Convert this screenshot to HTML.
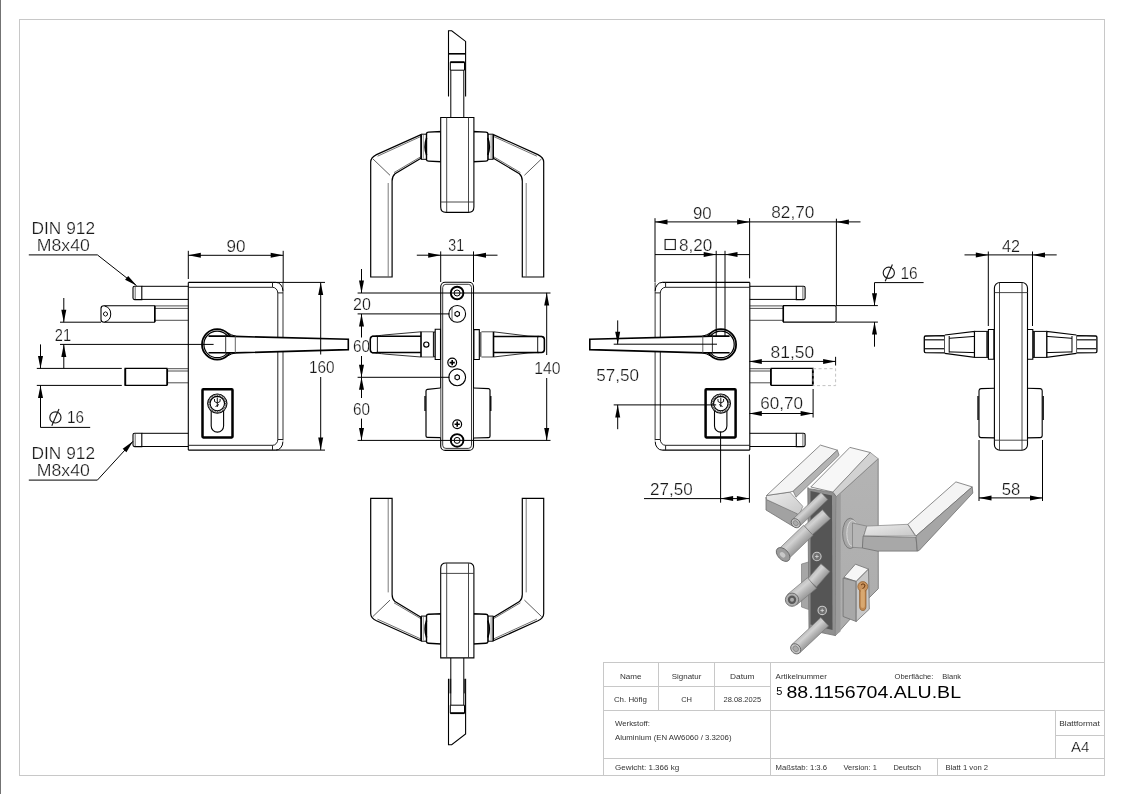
<!DOCTYPE html>
<html><head><meta charset="utf-8"><style>
html,body{margin:0;padding:0;background:#fff;width:1123px;height:794px;overflow:hidden}
svg{display:block;will-change:transform}
text{font-family:"Liberation Sans", sans-serif}
</style></head><body>
<svg width="1123" height="794" viewBox="0 0 1123 794">
<rect x="0" y="0" width="1123" height="794" fill="#fff"/>

<rect x="0" y="0" width="1" height="794" fill="#737373"/>
<rect x="19.5" y="19.5" width="1085" height="756" fill="none" stroke="#c8c8c8" stroke-width="1"/>
<g stroke="#c8c8c8" stroke-width="1" fill="none">
<rect x="603.5" y="662.5" width="501" height="113"/>
<line x1="603.5" y1="686.5" x2="770.5" y2="686.5"/>
<line x1="603.5" y1="710.5" x2="1104.5" y2="710.5"/>
<line x1="603.5" y1="758.5" x2="1104.5" y2="758.5"/>
<line x1="658.5" y1="662.5" x2="658.5" y2="710.5"/>
<line x1="714.5" y1="662.5" x2="714.5" y2="710.5"/>
<line x1="770.5" y1="662.5" x2="770.5" y2="775.5"/>
<line x1="1055.5" y1="710.5" x2="1055.5" y2="758.5"/>
<line x1="1055.5" y1="735.5" x2="1104.5" y2="735.5"/>
<line x1="937.5" y1="758.5" x2="937.5" y2="775.5"/>
</g>
<text x="630.8" y="679" font-size="7.5" text-anchor="middle" fill="#333" textLength="21.6" lengthAdjust="spacingAndGlyphs" >Name</text>
<text x="686.6" y="679" font-size="7.5" text-anchor="middle" fill="#333" textLength="29.6" lengthAdjust="spacingAndGlyphs" >Signatur</text>
<text x="742.3" y="679" font-size="7.5" text-anchor="middle" fill="#333" textLength="24.5" lengthAdjust="spacingAndGlyphs" >Datum</text>
<text x="630.4" y="702" font-size="7.5" text-anchor="middle" fill="#333" textLength="33" lengthAdjust="spacingAndGlyphs" >Ch. Höfig</text>
<text x="686.6" y="702" font-size="7.5" text-anchor="middle" fill="#333" >CH</text>
<text x="742.3" y="702" font-size="7.5" text-anchor="middle" fill="#333" >28.08.2025</text>
<text x="615" y="726.4" font-size="7.5" text-anchor="start" fill="#333" textLength="34.9" lengthAdjust="spacingAndGlyphs" >Werkstoff:</text>
<text x="615" y="740.4" font-size="7.5" text-anchor="start" fill="#333" textLength="116.5" lengthAdjust="spacingAndGlyphs" >Aluminium (EN AW6060 / 3.3206)</text>
<text x="615" y="769.7" font-size="7.5" text-anchor="start" fill="#333" textLength="64.2" lengthAdjust="spacingAndGlyphs" >Gewicht: 1.366 kg</text>
<text x="775.6" y="679.3" font-size="7.5" text-anchor="start" fill="#333" textLength="51.2" lengthAdjust="spacingAndGlyphs" >Artikelnummer</text>
<text x="894.6" y="679.3" font-size="7.5" text-anchor="start" fill="#333" >Oberfläche:</text>
<text x="942.3" y="679.3" font-size="7.5" text-anchor="start" fill="#333" >Blank</text>
<text x="776.2" y="694.9" font-size="11" text-anchor="start" fill="#000" >5</text>
<text x="786.5" y="697.7" font-size="17.4" text-anchor="start" fill="#000" textLength="174.5" lengthAdjust="spacingAndGlyphs" >88.1156704.ALU.BL</text>
<text x="1079.5" y="726" font-size="7.5" text-anchor="middle" fill="#333" textLength="40.5" lengthAdjust="spacingAndGlyphs" >Blattformat</text>
<text x="1080.2" y="751.6" font-size="14" text-anchor="middle" fill="#111" textLength="18.4" lengthAdjust="spacingAndGlyphs" stroke="#fff" stroke-width="0.22" >A4</text>
<text x="775.6" y="769.7" font-size="7.5" text-anchor="start" fill="#333" textLength="51.5" lengthAdjust="spacingAndGlyphs" >Maßstab: 1:3.6</text>
<text x="843.5" y="769.7" font-size="7.5" text-anchor="start" fill="#333" >Version: 1</text>
<text x="893.4" y="769.7" font-size="7.5" text-anchor="start" fill="#333" >Deutsch</text>
<text x="945.4" y="769.7" font-size="7.5" text-anchor="start" fill="#333" textLength="42.7" lengthAdjust="spacingAndGlyphs" >Blatt 1 von 2</text>
<g>
<path d="M188.3,282.4 L275.9,282.4 M188.3,450.1 L275.9,450.1 M188.3,282.4 L188.3,450.1" stroke="#000" stroke-width="1.1" fill="none" />
<path d="M283,282.4 L283,440.4" stroke="#333" stroke-width="1.0" fill="none" />
<path d="M275.9,282.4 A6.8,8.5 0 0 1 282.9,290.9 M282.9,441.6 A6.8,8.5 0 0 1 275.9,450.1" stroke="#000" stroke-width="1.0" fill="none" />
<path d="M188.3,287.3 L272.5,287.3 M272.5,282.4 L272.5,287.3 A5.3,5.8 0 0 1 277.8,293.1 L277.8,439.4 A5.3,5.8 0 0 1 272.5,445.3 L188.3,445.3 M272.5,445.3 L272.5,450.1 M277.8,292.9 L283,292.9 M277.8,439.5 L283,439.5" stroke="#222" stroke-width="1.0" fill="none" />
<path d="M141.8,286.3 L188.3,286.3 M141.8,299.4 L188.3,299.4" stroke="#000" stroke-width="1.0" fill="none" />
<path d="M141.8,286.2 L134.6,286.2 Q133,286.2 133,287.8 L133,298 Q133,299.6 134.6,299.6 L141.8,299.6 Z" stroke="#000" stroke-width="1.1" fill="none" />
<line x1="135.2" y1="286.6" x2="135.2" y2="299.2" stroke="#444" stroke-width="0.8" />
<path d="M141.8,433.3 L188.3,433.3 M141.8,446.5 L188.3,446.5" stroke="#000" stroke-width="1.0" fill="none" />
<path d="M141.8,433.2 L134.6,433.2 Q133,433.2 133,434.8 L133,445 Q133,446.6 134.6,446.6 L141.8,446.6 Z" stroke="#000" stroke-width="1.1" fill="none" />
<line x1="135.2" y1="433.6" x2="135.2" y2="446.2" stroke="#444" stroke-width="0.8" />
<path d="M125,368.4 L167,368.4 L167,385.4 L125,385.4 Z" stroke="#000" stroke-width="1.1" fill="none" />
<line x1="125.4" y1="368.6" x2="125.4" y2="385.2" stroke="#000" stroke-width="1.6" />
<path d="M167,368.7 L188.3,368.7 M167,371 L188.3,371 M167,382.8 L188.3,382.8" stroke="#222" stroke-width="0.8" fill="none" />
<line x1="167.3" y1="369" x2="167.3" y2="385" stroke="#000" stroke-width="1.5" />
<path d="M154.6,305.9 L188.3,305.9 M154.6,308.4 L188.3,308.4 M154.6,320.3 L188.3,320.3" stroke="#222" stroke-width="0.8" fill="none" />
<line x1="154.9" y1="306" x2="154.9" y2="322" stroke="#000" stroke-width="1.5" />
<circle cx="217.2" cy="344.4" r="15.2" fill="#fff" stroke="#000" stroke-width="1.8"/>
<circle cx="217.2" cy="344.4" r="13.3" fill="none" stroke="#000" stroke-width="1.2"/>
<path d="M208.5,336.1 L226.5,336.1 L234.5,336.4 L348.3,339.2 L348.3,349.6 L234.5,352.9 L226.5,352.8 L208.5,352.8" stroke="#000" stroke-width="1.6" fill="#fff" />
<path d="M227.5,332.8 Q231,335 236,336.3 M227.5,356 Q231,353.8 236,352.6" stroke="#000" stroke-width="1.0" fill="none" />
<line x1="225.7" y1="335.5" x2="225.7" y2="353.4" stroke="#222" stroke-width="0.9" />
<line x1="235.3" y1="336.2" x2="235.3" y2="352.8" stroke="#555" stroke-width="0.9" />
<rect x="202.5" y="389.2" width="30" height="48.2" rx="0.8" fill="none" stroke="#000" stroke-width="2.5"/>
<path d="M211.2,405 L211.2,426 A6.1,6 0 0 0 223.6,426 L223.6,405" stroke="#000" stroke-width="1.1" fill="none" />
<circle cx="217.3" cy="403.6" r="9.6" fill="#fff" stroke="#000" stroke-width="1.2"/>
<circle cx="217.3" cy="403.6" r="8.5" fill="none" stroke="#555" stroke-width="2" stroke-dasharray="1,0.8"/>
<circle cx="217.3" cy="403.6" r="7.2" fill="#fff" stroke="#000" stroke-width="1.1"/>
<path d="M214.5,399 L214.5,401.5 Q217.3,404.5 220.1,401.5 L220.1,399 M217.3,397.5 L217.3,407 M215.5,406.5 L219,404.5" stroke="#000" stroke-width="0.9" fill="none" />
<path d="M154.6,305.8 L104,305.8 Q101,305.8 101,308.5 L101,319.5 Q101,322.2 104,322.2 L154.6,322.2 Z" stroke="#000" stroke-width="1.1" fill="none" />
<path d="M104.5,306 A8,8.2 0 0 1 104.5,322" stroke="#000" stroke-width="1.0" fill="none" />
<polygon points="103.6,312.9 105.5,311.8 107.4,312.9 107.4,315.1 105.5,316.2 103.6,315.1" fill="none" stroke="#000" stroke-width="0.9"/>
</g>
<line x1="188.3" y1="250.8" x2="188.3" y2="279" stroke="#000" stroke-width="1.0" />
<line x1="283.2" y1="250.8" x2="283.2" y2="282" stroke="#000" stroke-width="1.0" />
<line x1="188.3" y1="255.3" x2="283.2" y2="255.3" stroke="#000" stroke-width="1.0" />
<polygon points="188.3,255.3 200.8,252.8 200.8,257.8" fill="#000"/>
<polygon points="283.2,255.3 270.7,252.8 270.7,257.8" fill="#000"/>
<text x="236" y="251.6" font-size="16" text-anchor="middle" fill="#1a1a1a" textLength="19" lengthAdjust="spacingAndGlyphs" stroke="#fff" stroke-width="0.22" >90</text>
<line x1="275.9" y1="282.4" x2="325" y2="282.4" stroke="#000" stroke-width="1.0" />
<line x1="275.9" y1="450.1" x2="325" y2="450.1" stroke="#000" stroke-width="1.0" />
<line x1="320.7" y1="282.5" x2="320.7" y2="354.5" stroke="#000" stroke-width="1.0" />
<line x1="320.7" y1="377" x2="320.7" y2="450.1" stroke="#000" stroke-width="1.0" />
<polygon points="320.7,282.5 318.2,295.0 323.2,295.0" fill="#000"/>
<polygon points="320.7,450.1 318.2,437.6 323.2,437.6" fill="#000"/>
<text x="321.8" y="372.9" font-size="16" text-anchor="middle" fill="#1a1a1a" textLength="25.6" lengthAdjust="spacingAndGlyphs" stroke="#fff" stroke-width="0.22" >160</text>
<line x1="60" y1="322.2" x2="101" y2="322.2" stroke="#000" stroke-width="1.0" />
<line x1="60" y1="344.4" x2="213.6" y2="344.4" stroke="#000" stroke-width="1.0" />
<line x1="63.8" y1="298" x2="63.8" y2="322.2" stroke="#000" stroke-width="1.0" />
<polygon points="63.8,322.2 61.3,309.7 66.3,309.7" fill="#000"/>
<line x1="63.8" y1="344.4" x2="63.8" y2="368.4" stroke="#000" stroke-width="1.0" />
<polygon points="63.8,344.4 61.3,356.9 66.3,356.9" fill="#000"/>
<text x="63" y="340.5" font-size="16" text-anchor="middle" fill="#1a1a1a" textLength="16.3" lengthAdjust="spacingAndGlyphs" stroke="#fff" stroke-width="0.22" >21</text>
<line x1="36.8" y1="368.4" x2="121.8" y2="368.4" stroke="#000" stroke-width="1.0" />
<line x1="36.8" y1="385.4" x2="121.8" y2="385.4" stroke="#000" stroke-width="1.0" />
<line x1="40.5" y1="344.4" x2="40.5" y2="368.4" stroke="#000" stroke-width="1.0" />
<polygon points="40.5,368.4 38.0,355.9 43.0,355.9" fill="#000"/>
<line x1="40.5" y1="385.4" x2="40.5" y2="427.4" stroke="#000" stroke-width="1.0" />
<polygon points="40.5,385.4 38.0,397.9 43.0,397.9" fill="#000"/>
<line x1="40.5" y1="427.4" x2="90.2" y2="427.4" stroke="#000" stroke-width="1.0" />
<circle cx="55.4" cy="417.4" rx="5.5" r="5.6" fill="none" stroke="#1a1a1a" stroke-width="1.15"/>
<line x1="51.8" y1="425.8" x2="59.0" y2="409.0" stroke="#1a1a1a" stroke-width="1.15"/>
<text x="67" y="423.4" font-size="16" text-anchor="start" fill="#1a1a1a" textLength="17" lengthAdjust="spacingAndGlyphs" stroke="#fff" stroke-width="0.22" >16</text>
<path d="M28.8,254.9 L97.4,254.9 L136.5,285.6" stroke="#000" stroke-width="1.0" fill="none" />
<polygon points="136.5,285.6 128.2,275.9 125.1,279.8" fill="#000"/>
<text x="63.3" y="234.4" font-size="16" text-anchor="middle" fill="#1a1a1a" textLength="63.5" lengthAdjust="spacingAndGlyphs" stroke="#fff" stroke-width="0.22" >DIN 912</text>
<text x="63.3" y="251.3" font-size="16" text-anchor="middle" fill="#1a1a1a" textLength="53" lengthAdjust="spacingAndGlyphs" stroke="#fff" stroke-width="0.22" >M8x40</text>
<path d="M28.8,480.1 L97.4,480.1 L133,441.3" stroke="#000" stroke-width="1.0" fill="none" />
<polygon points="133.0,441.3 122.7,448.8 126.4,452.2" fill="#000"/>
<text x="63.3" y="459.3" font-size="16" text-anchor="middle" fill="#1a1a1a" textLength="63.5" lengthAdjust="spacingAndGlyphs" stroke="#fff" stroke-width="0.22" >DIN 912</text>
<text x="63.3" y="476" font-size="16" text-anchor="middle" fill="#1a1a1a" textLength="53" lengthAdjust="spacingAndGlyphs" stroke="#fff" stroke-width="0.22" >M8x40</text>
<rect x="440.7" y="282.3" width="32.8" height="168.1" rx="4.5" fill="#fff" stroke="#000" stroke-width="1.1"/>
<rect x="442.7" y="284.3" width="28.8" height="164.1" rx="3.2" fill="none" stroke="#222" stroke-width="0.9"/>
<path d="M421,331.8 L386,334.8 Q376,336 372.5,336.2 Q370.3,336.5 370.3,339.5 L370.3,349.5 Q370.3,352.5 372.5,352.8 Q376,353 386,354.2 L421,357" stroke="#333" stroke-width="1.0" fill="#fff" />
<path d="M377.6,336.3 L372.5,336.3 Q370.3,336.6 370.3,339.5 L370.3,349.5 Q370.3,352.4 372.5,352.7 L377.6,352.7" stroke="#000" stroke-width="1.5" fill="none" />
<line x1="376.5" y1="336.3" x2="421" y2="336.3" stroke="#000" stroke-width="1.5" />
<line x1="376.5" y1="352.6" x2="421" y2="352.6" stroke="#000" stroke-width="1.5" />
<line x1="377.4" y1="336.5" x2="377.4" y2="352.5" stroke="#000" stroke-width="0.9" />
<path d="M421,331.8 L433.4,331.8 M421,357 L433.4,357" stroke="#555" stroke-width="1.0" fill="none" />
<line x1="421" y1="331.8" x2="421" y2="357" stroke="#000" stroke-width="1.6" />
<circle cx="426.3" cy="344.6" r="2.6" fill="none" stroke="#000" stroke-width="1.2"/>
<path d="M433.4,332 L435.2,332 L435.2,356.8 L433.4,356.8 Z" stroke="#000" stroke-width="1.0" fill="none" />
<path d="M435.2,329.3 L440.5,329.3 L440.5,359.5 L435.2,359.5 Z" stroke="#000" stroke-width="1.1" fill="#fff" />
<path d="M493.5,331.8 L528,336 Q534,336.3 541.5,336.4 Q544.4,336.5 544.4,339.5 L544.4,349.5 Q544.4,352.4 541.5,352.5 Q534,352.6 528,353 L493.5,357" stroke="#333" stroke-width="1.0" fill="#fff" />
<path d="M537.7,336.4 L541.5,336.4 Q544.4,336.6 544.4,339.5 L544.4,349.5 Q544.4,352.4 541.5,352.5 L537.7,352.5" stroke="#000" stroke-width="1.5" fill="none" />
<line x1="493.5" y1="336.4" x2="538.5" y2="336.4" stroke="#000" stroke-width="1.5" />
<line x1="493.5" y1="352.4" x2="538.5" y2="352.4" stroke="#000" stroke-width="1.5" />
<line x1="537.7" y1="336.6" x2="537.7" y2="352.3" stroke="#000" stroke-width="0.9" />
<path d="M481.4,331.8 L493.5,331.8 M481.4,357 L493.5,357" stroke="#555" stroke-width="1.0" fill="none" />
<line x1="493.5" y1="331.8" x2="493.5" y2="357" stroke="#000" stroke-width="1.6" />
<rect x="479.6" y="332" width="1.9" height="24.8" fill="#666"/>
<path d="M473.9,329.6 L479.3,329.6 L479.3,359.5 L473.9,359.5 Z" stroke="#000" stroke-width="1.1" fill="#fff" />
<path d="M440.4,388 L427.5,389.3 Q426,389.5 426,391 L426,436 Q426,437.3 427.5,437.3 L440.4,437.6" stroke="#000" stroke-width="1.2" fill="#fff" />
<line x1="425" y1="396" x2="425" y2="411" stroke="#000" stroke-width="1.3" />
<path d="M473.9,388 L488.5,388.6 Q490,388.8 490,390.3 L490,436.3 Q490,437.7 488.5,437.7 L473.9,438" stroke="#000" stroke-width="1.2" fill="#fff" />
<line x1="490.8" y1="396" x2="490.8" y2="411" stroke="#000" stroke-width="1.3" />
<circle cx="457.1" cy="293" r="6.3" fill="#fff" stroke="#000" stroke-width="1.9"/>
<circle cx="457.1" cy="293" r="3.0" fill="none" stroke="#000" stroke-width="1.0"/>
<circle cx="457.1" cy="440.4" r="6.3" fill="#fff" stroke="#000" stroke-width="1.9"/>
<circle cx="457.1" cy="440.4" r="3.0" fill="none" stroke="#000" stroke-width="1.0"/>
<circle cx="457.2" cy="313.9" r="8.4" fill="#fff" stroke="#000" stroke-width="1.1"/>
<polygon points="455.0,312.59999999999997 457.2,311.29999999999995 459.4,312.59999999999997 459.4,315.2 457.2,316.5 455.0,315.2" fill="none" stroke="#000" stroke-width="1.1"/>
<circle cx="457.2" cy="377.3" r="8.4" fill="#fff" stroke="#000" stroke-width="1.1"/>
<polygon points="455.0,376.0 457.2,374.7 459.4,376.0 459.4,378.6 457.2,379.90000000000003 455.0,378.6" fill="none" stroke="#000" stroke-width="1.1"/>
<line x1="452" y1="307" x2="452" y2="320.8" stroke="#333" stroke-width="0.8" />
<circle cx="452.2" cy="362.6" r="4.4" fill="none" stroke="#000" stroke-width="1.2"/>
<path d="M449.59999999999997,362.6 L454.8,362.6 M452.2,360.0 L452.2,365.20000000000005" stroke="#000" stroke-width="1.6"/>
<circle cx="457.2" cy="424.2" r="4.4" fill="none" stroke="#000" stroke-width="1.2"/>
<path d="M454.59999999999997,424.2 L459.8,424.2 M457.2,421.59999999999997 L457.2,426.8" stroke="#000" stroke-width="1.6"/>
<line x1="357.6" y1="293" x2="550.5" y2="293" stroke="#000" stroke-width="1.0" />
<line x1="357.6" y1="440.4" x2="550.5" y2="440.4" stroke="#000" stroke-width="1.0" />
<line x1="357.6" y1="313.9" x2="449.6" y2="313.9" stroke="#000" stroke-width="1.0" />
<line x1="357.6" y1="377.3" x2="449.6" y2="377.3" stroke="#000" stroke-width="1.0" />
<line x1="361.5" y1="269" x2="361.5" y2="293" stroke="#000" stroke-width="1.0" />
<polygon points="361.5,293.0 359.0,280.5 364.0,280.5" fill="#000"/>
<line x1="361.5" y1="313.9" x2="361.5" y2="337.5" stroke="#000" stroke-width="1.0" />
<polygon points="361.5,313.9 359.0,326.4 364.0,326.4" fill="#000"/>
<line x1="361.5" y1="356" x2="361.5" y2="377.3" stroke="#000" stroke-width="1.0" />
<polygon points="361.5,377.3 359.0,364.8 364.0,364.8" fill="#000"/>
<line x1="361.5" y1="377.3" x2="361.5" y2="398" stroke="#000" stroke-width="1.0" />
<polygon points="361.5,377.3 359.0,389.8 364.0,389.8" fill="#000"/>
<line x1="361.5" y1="418.6" x2="361.5" y2="440.4" stroke="#000" stroke-width="1.0" />
<polygon points="361.5,440.4 359.0,427.9 364.0,427.9" fill="#000"/>
<text x="362" y="310.3" font-size="16" text-anchor="middle" fill="#1a1a1a" textLength="17.8" lengthAdjust="spacingAndGlyphs" stroke="#fff" stroke-width="0.22" >20</text>
<text x="361.5" y="352.4" font-size="16" text-anchor="middle" fill="#1a1a1a" textLength="17" lengthAdjust="spacingAndGlyphs" stroke="#fff" stroke-width="0.22" >60</text>
<text x="361.5" y="414.9" font-size="16" text-anchor="middle" fill="#1a1a1a" textLength="17" lengthAdjust="spacingAndGlyphs" stroke="#fff" stroke-width="0.22" >60</text>
<line x1="440.7" y1="251.4" x2="440.7" y2="282" stroke="#000" stroke-width="1.0" />
<line x1="473.5" y1="251.4" x2="473.5" y2="282" stroke="#000" stroke-width="1.0" />
<line x1="416.8" y1="255.2" x2="497.5" y2="255.2" stroke="#000" stroke-width="1.0" />
<polygon points="440.7,255.2 428.2,252.7 428.2,257.7" fill="#000"/>
<polygon points="473.5,255.2 486.0,252.7 486.0,257.7" fill="#000"/>
<text x="456.2" y="251.4" font-size="16" text-anchor="middle" fill="#1a1a1a" textLength="15.7" lengthAdjust="spacingAndGlyphs" stroke="#fff" stroke-width="0.22" >31</text>
<line x1="546.7" y1="292.8" x2="546.7" y2="355" stroke="#000" stroke-width="1.0" />
<line x1="546.7" y1="378" x2="546.7" y2="440.5" stroke="#000" stroke-width="1.0" />
<polygon points="546.7,292.9 544.2,305.4 549.2,305.4" fill="#000"/>
<polygon points="546.7,440.4 544.2,427.9 549.2,427.9" fill="#000"/>
<text x="547.5" y="373.5" font-size="16" text-anchor="middle" fill="#1a1a1a" textLength="26.3" lengthAdjust="spacingAndGlyphs" stroke="#fff" stroke-width="0.22" >140</text>
<g>
<path d="M448.5,96.6 L448.5,30.7 L451.7,30.7 L465.6,41.4 L465.6,96.6" stroke="#000" stroke-width="1.1" fill="#fff" />
<line x1="448.5" y1="53.8" x2="465.6" y2="53.8" stroke="#000" stroke-width="1.6" />
<path d="M450.3,62.2 L464.5,62.2 L464.5,70.2 L450.3,70.2 Z" stroke="#000" stroke-width="1.0" fill="none" />
<line x1="450.3" y1="62.2" x2="464.5" y2="62.2" stroke="#000" stroke-width="1.8" />
<line x1="450.8" y1="70.2" x2="450.8" y2="117.6" stroke="#000" stroke-width="1.0" />
<line x1="463.8" y1="70.2" x2="463.8" y2="117.6" stroke="#000" stroke-width="1.0" />
<g >
<path d="M421,134.6 L376.5,154.6 Q370.7,157.5 370.7,162 L370.7,277 L392.1,277 L392.1,181 Q392.1,176.5 395,173.8 L421,158.2" stroke="#000" stroke-width="1.2" fill="#fff" />
<path d="M421,136.4 L377.5,156.2 M421,156.6 L394,172.6" stroke="#333" stroke-width="0.7" fill="none" />
<line x1="372.8" y1="158.8" x2="390" y2="175.3" stroke="#333" stroke-width="0.8" />
<line x1="388.2" y1="183" x2="388.2" y2="276.5" stroke="#444" stroke-width="0.7" />
<path d="M421,134.2 L426.5,134.2 L426.5,159.3 L421,159.3 Z" stroke="#000" stroke-width="1.0" fill="#fff" />
<line x1="421.2" y1="134.5" x2="421.2" y2="159" stroke="#000" stroke-width="1.5" />
<line x1="423.3" y1="135" x2="423.3" y2="158.6" stroke="#666" stroke-width="0.7" />
<path d="M426.5,133.5 Q426.8,132.2 428.5,132.1 L441,131.5 L441,161.7 L428.5,161.1 Q426.8,161 426.5,159.8 Z" stroke="#000" stroke-width="1.4" fill="#fff" />
<path d="M426.6,138 Q423.6,146.5 426.6,155" stroke="#000" stroke-width="1.6" fill="none" />
</g>
<g transform="translate(914.4,0) scale(-1,1)">
<path d="M421,134.6 L376.5,154.6 Q370.7,157.5 370.7,162 L370.7,277 L392.1,277 L392.1,181 Q392.1,176.5 395,173.8 L421,158.2" stroke="#000" stroke-width="1.2" fill="#fff" />
<path d="M421,136.4 L377.5,156.2 M421,156.6 L394,172.6" stroke="#333" stroke-width="0.7" fill="none" />
<line x1="372.8" y1="158.8" x2="390" y2="175.3" stroke="#333" stroke-width="0.8" />
<line x1="388.2" y1="183" x2="388.2" y2="276.5" stroke="#444" stroke-width="0.7" />
<path d="M421,134.2 L426.5,134.2 L426.5,159.3 L421,159.3 Z" stroke="#000" stroke-width="1.0" fill="#fff" />
<line x1="421.2" y1="134.5" x2="421.2" y2="159" stroke="#000" stroke-width="1.5" />
<line x1="423.3" y1="135" x2="423.3" y2="158.6" stroke="#666" stroke-width="0.7" />
<path d="M426.5,133.5 Q426.8,132.2 428.5,132.1 L441,131.5 L441,161.7 L428.5,161.1 Q426.8,161 426.5,159.8 Z" stroke="#000" stroke-width="1.4" fill="#fff" />
<path d="M426.6,138 Q423.6,146.5 426.6,155" stroke="#000" stroke-width="1.6" fill="none" />
</g>
<path d="M440.7,117.5 L473.9,117.5 L473.9,207 Q473.9,212.4 468.5,212.4 L446.1,212.4 Q440.7,212.4 440.7,207 Z" stroke="#000" stroke-width="1.1" fill="#fff" />
<line x1="446.7" y1="117.5" x2="446.7" y2="212.2" stroke="#333" stroke-width="0.9" />
<line x1="468.5" y1="117.5" x2="468.5" y2="212.2" stroke="#333" stroke-width="0.9" />
<line x1="440.7" y1="202" x2="473.9" y2="202" stroke="#333" stroke-width="0.9" />
</g>
<g transform="translate(0,775.4) scale(1,-1)">
<path d="M448.5,96.6 L448.5,30.7 L451.7,30.7 L465.6,41.4 L465.6,96.6" stroke="#000" stroke-width="1.1" fill="#fff" />
<line x1="450.3" y1="82" x2="450.3" y2="96.6" stroke="#555" stroke-width="1.8" />
<line x1="464.5" y1="82" x2="464.5" y2="96.6" stroke="#555" stroke-width="1.2" />
<path d="M450.3,62.2 L464.5,62.2 L464.5,70.2 L450.3,70.2 Z" stroke="#000" stroke-width="1.0" fill="none" />
<line x1="450.3" y1="62.2" x2="464.5" y2="62.2" stroke="#000" stroke-width="1.8" />
<line x1="450.8" y1="70.2" x2="450.8" y2="117.6" stroke="#000" stroke-width="1.0" />
<line x1="463.8" y1="70.2" x2="463.8" y2="117.6" stroke="#000" stroke-width="1.0" />
<g >
<path d="M421,134.6 L376.5,154.6 Q370.7,157.5 370.7,162 L370.7,277 L392.1,277 L392.1,181 Q392.1,176.5 395,173.8 L421,158.2" stroke="#000" stroke-width="1.2" fill="#fff" />
<path d="M421,136.4 L377.5,156.2 M421,156.6 L394,172.6" stroke="#333" stroke-width="0.7" fill="none" />
<line x1="372.8" y1="158.8" x2="390" y2="175.3" stroke="#333" stroke-width="0.8" />
<line x1="388.2" y1="183" x2="388.2" y2="276.5" stroke="#444" stroke-width="0.7" />
<path d="M421,134.2 L426.5,134.2 L426.5,159.3 L421,159.3 Z" stroke="#000" stroke-width="1.0" fill="#fff" />
<line x1="421.2" y1="134.5" x2="421.2" y2="159" stroke="#000" stroke-width="1.5" />
<line x1="423.3" y1="135" x2="423.3" y2="158.6" stroke="#666" stroke-width="0.7" />
<path d="M426.5,133.5 Q426.8,132.2 428.5,132.1 L441,131.5 L441,161.7 L428.5,161.1 Q426.8,161 426.5,159.8 Z" stroke="#000" stroke-width="1.4" fill="#fff" />
<path d="M426.6,138 Q423.6,146.5 426.6,155" stroke="#000" stroke-width="1.6" fill="none" />
</g>
<g transform="translate(914.4,0) scale(-1,1)">
<path d="M421,134.6 L376.5,154.6 Q370.7,157.5 370.7,162 L370.7,277 L392.1,277 L392.1,181 Q392.1,176.5 395,173.8 L421,158.2" stroke="#000" stroke-width="1.2" fill="#fff" />
<path d="M421,136.4 L377.5,156.2 M421,156.6 L394,172.6" stroke="#333" stroke-width="0.7" fill="none" />
<line x1="372.8" y1="158.8" x2="390" y2="175.3" stroke="#333" stroke-width="0.8" />
<line x1="388.2" y1="183" x2="388.2" y2="276.5" stroke="#444" stroke-width="0.7" />
<path d="M421,134.2 L426.5,134.2 L426.5,159.3 L421,159.3 Z" stroke="#000" stroke-width="1.0" fill="#fff" />
<line x1="421.2" y1="134.5" x2="421.2" y2="159" stroke="#000" stroke-width="1.5" />
<line x1="423.3" y1="135" x2="423.3" y2="158.6" stroke="#666" stroke-width="0.7" />
<path d="M426.5,133.5 Q426.8,132.2 428.5,132.1 L441,131.5 L441,161.7 L428.5,161.1 Q426.8,161 426.5,159.8 Z" stroke="#000" stroke-width="1.4" fill="#fff" />
<path d="M426.6,138 Q423.6,146.5 426.6,155" stroke="#000" stroke-width="1.6" fill="none" />
</g>
<path d="M440.7,117.5 L473.9,117.5 L473.9,207 Q473.9,212.4 468.5,212.4 L446.1,212.4 Q440.7,212.4 440.7,207 Z" stroke="#000" stroke-width="1.1" fill="#fff" />
<line x1="446.7" y1="117.5" x2="446.7" y2="212.2" stroke="#333" stroke-width="0.9" />
<line x1="468.5" y1="117.5" x2="468.5" y2="212.2" stroke="#333" stroke-width="0.9" />
<line x1="440.7" y1="202" x2="473.9" y2="202" stroke="#333" stroke-width="0.9" />
</g>
<g transform="translate(938.1,0) scale(-1,1)">
<path d="M188.3,282.4 L275.9,282.4 M188.3,450.1 L275.9,450.1 M188.3,282.4 L188.3,450.1" stroke="#000" stroke-width="1.1" fill="none" />
<path d="M283,282.4 L283,440.4" stroke="#333" stroke-width="1.0" fill="none" />
<path d="M275.9,282.4 A6.8,8.5 0 0 1 282.9,290.9 M282.9,441.6 A6.8,8.5 0 0 1 275.9,450.1" stroke="#000" stroke-width="1.0" fill="none" />
<path d="M188.3,287.3 L272.5,287.3 M272.5,282.4 L272.5,287.3 A5.3,5.8 0 0 1 277.8,293.1 L277.8,439.4 A5.3,5.8 0 0 1 272.5,445.3 L188.3,445.3 M272.5,445.3 L272.5,450.1 M277.8,292.9 L283,292.9 M277.8,439.5 L283,439.5" stroke="#222" stroke-width="1.0" fill="none" />
<path d="M141.8,286.3 L188.3,286.3 M141.8,299.4 L188.3,299.4" stroke="#000" stroke-width="1.0" fill="none" />
<path d="M141.8,286.2 L134.6,286.2 Q133,286.2 133,287.8 L133,298 Q133,299.6 134.6,299.6 L141.8,299.6 Z" stroke="#000" stroke-width="1.1" fill="none" />
<line x1="135.2" y1="286.6" x2="135.2" y2="299.2" stroke="#444" stroke-width="0.8" />
<path d="M141.8,433.3 L188.3,433.3 M141.8,446.5 L188.3,446.5" stroke="#000" stroke-width="1.0" fill="none" />
<path d="M141.8,433.2 L134.6,433.2 Q133,433.2 133,434.8 L133,445 Q133,446.6 134.6,446.6 L141.8,446.6 Z" stroke="#000" stroke-width="1.1" fill="none" />
<line x1="135.2" y1="433.6" x2="135.2" y2="446.2" stroke="#444" stroke-width="0.8" />
<path d="M125,368.4 L167,368.4 L167,385.4 L125,385.4 Z" stroke="#000" stroke-width="1.1" fill="none" />
<line x1="125.4" y1="368.6" x2="125.4" y2="385.2" stroke="#000" stroke-width="1.6" />
<path d="M167,368.7 L188.3,368.7 M167,371 L188.3,371 M167,382.8 L188.3,382.8" stroke="#222" stroke-width="0.8" fill="none" />
<line x1="167.3" y1="369" x2="167.3" y2="385" stroke="#000" stroke-width="1.5" />
<path d="M154.6,305.9 L188.3,305.9 M154.6,308.4 L188.3,308.4 M154.6,320.3 L188.3,320.3" stroke="#222" stroke-width="0.8" fill="none" />
<line x1="154.9" y1="306" x2="154.9" y2="322" stroke="#000" stroke-width="1.5" />
<circle cx="217.2" cy="344.4" r="15.2" fill="#fff" stroke="#000" stroke-width="1.8"/>
<circle cx="217.2" cy="344.4" r="13.3" fill="none" stroke="#000" stroke-width="1.2"/>
<path d="M208.5,336.1 L226.5,336.1 L234.5,336.4 L348.3,339.2 L348.3,349.6 L234.5,352.9 L226.5,352.8 L208.5,352.8" stroke="#000" stroke-width="1.6" fill="#fff" />
<path d="M227.5,332.8 Q231,335 236,336.3 M227.5,356 Q231,353.8 236,352.6" stroke="#000" stroke-width="1.0" fill="none" />
<line x1="225.7" y1="335.5" x2="225.7" y2="353.4" stroke="#222" stroke-width="0.9" />
<line x1="235.3" y1="336.2" x2="235.3" y2="352.8" stroke="#555" stroke-width="0.9" />
<rect x="202.5" y="389.2" width="30" height="48.2" rx="0.8" fill="none" stroke="#000" stroke-width="2.5"/>
<path d="M211.2,405 L211.2,426 A6.1,6 0 0 0 223.6,426 L223.6,405" stroke="#000" stroke-width="1.1" fill="none" />
<circle cx="217.3" cy="403.6" r="9.6" fill="#fff" stroke="#000" stroke-width="1.2"/>
<circle cx="217.3" cy="403.6" r="8.5" fill="none" stroke="#555" stroke-width="2" stroke-dasharray="1,0.8"/>
<circle cx="217.3" cy="403.6" r="7.2" fill="#fff" stroke="#000" stroke-width="1.1"/>
<path d="M214.5,399 L214.5,401.5 Q217.3,404.5 220.1,401.5 L220.1,399 M217.3,397.5 L217.3,407 M215.5,406.5 L219,404.5" stroke="#000" stroke-width="0.9" fill="none" />
<path d="M154.6,305.6 L103.5,305.6 Q102,305.6 102,307.1 L102,320.6 Q102,322.1 103.5,322.1 L154.6,322.1 Z" stroke="#000" stroke-width="1.1" fill="none" />
</g>
<rect x="813.1" y="368.7" width="22.5" height="16.9" fill="none" stroke="#bbb" stroke-width="0.9" stroke-dasharray="3,2.5"/>
<line x1="655" y1="218.2" x2="655" y2="282" stroke="#000" stroke-width="1.0" />
<line x1="749.6" y1="218.2" x2="749.6" y2="278.3" stroke="#000" stroke-width="1.0" />
<line x1="655" y1="221.9" x2="860.5" y2="221.9" stroke="#000" stroke-width="1.0" />
<polygon points="655.0,221.9 667.5,219.4 667.5,224.4" fill="#000"/>
<polygon points="749.6,221.9 737.1,219.4 737.1,224.4" fill="#000"/>
<polygon points="836.4,221.9 848.9,219.4 848.9,224.4" fill="#000"/>
<text x="702.3" y="218.7" font-size="16" text-anchor="middle" fill="#1a1a1a" textLength="18.7" lengthAdjust="spacingAndGlyphs" stroke="#fff" stroke-width="0.22" >90</text>
<text x="792.8" y="217.8" font-size="16" text-anchor="middle" fill="#1a1a1a" textLength="43" lengthAdjust="spacingAndGlyphs" stroke="#fff" stroke-width="0.22" >82,70</text>
<line x1="836.4" y1="218.7" x2="836.4" y2="305.6" stroke="#000" stroke-width="1.0" />
<line x1="655" y1="254.6" x2="749.6" y2="254.6" stroke="#000" stroke-width="1.0" />
<polygon points="716.2,254.6 703.7,252.1 703.7,257.1" fill="#000"/>
<polygon points="725.0,254.6 737.5,252.1 737.5,257.1" fill="#000"/>
<line x1="716.2" y1="250.8" x2="716.2" y2="336.4" stroke="#000" stroke-width="1.0" />
<line x1="725" y1="250.8" x2="725" y2="336.4" stroke="#000" stroke-width="1.0" />
<rect x="665.1" y="239.5" width="10.2" height="10" fill="none" stroke="#1a1a1a" stroke-width="1.1"/>
<text x="679" y="250.8" font-size="16" text-anchor="start" fill="#1a1a1a" textLength="33.2" lengthAdjust="spacingAndGlyphs" stroke="#fff" stroke-width="0.22" >8,20</text>
<circle cx="888.8" cy="272.8" rx="5.5" r="5.6" fill="none" stroke="#1a1a1a" stroke-width="1.15"/>
<line x1="885.2" y1="281.2" x2="892.4" y2="264.4" stroke="#1a1a1a" stroke-width="1.15"/>
<text x="900.5" y="278.8" font-size="16" text-anchor="start" fill="#1a1a1a" textLength="17.2" lengthAdjust="spacingAndGlyphs" stroke="#fff" stroke-width="0.22" >16</text>
<line x1="874.5" y1="282.6" x2="923.6" y2="282.6" stroke="#000" stroke-width="1.0" />
<line x1="874.5" y1="282.6" x2="874.5" y2="305.8" stroke="#000" stroke-width="1.0" />
<polygon points="874.5,305.8 872.0,293.3 877.0,293.3" fill="#000"/>
<line x1="874.5" y1="322.1" x2="874.5" y2="346.7" stroke="#000" stroke-width="1.0" />
<polygon points="874.5,322.1 872.0,334.6 877.0,334.6" fill="#000"/>
<line x1="836" y1="305.6" x2="877.9" y2="305.6" stroke="#000" stroke-width="1.0" />
<line x1="836" y1="322.1" x2="877.9" y2="322.1" stroke="#000" stroke-width="1.0" />
<line x1="749.3" y1="361.4" x2="835.6" y2="361.4" stroke="#000" stroke-width="1.0" />
<polygon points="749.3,361.4 761.8,358.9 761.8,363.9" fill="#000"/>
<polygon points="835.6,361.4 823.1,358.9 823.1,363.9" fill="#000"/>
<line x1="835.6" y1="356.8" x2="835.6" y2="365.5" stroke="#000" stroke-width="1.0" />
<text x="792.3" y="357.7" font-size="16" text-anchor="middle" fill="#1a1a1a" textLength="43.6" lengthAdjust="spacingAndGlyphs" stroke="#fff" stroke-width="0.22" >81,50</text>
<line x1="749.3" y1="413.5" x2="813.1" y2="413.5" stroke="#000" stroke-width="1.0" />
<polygon points="749.3,413.5 761.8,411.0 761.8,416.0" fill="#000"/>
<polygon points="813.1,413.5 800.6,411.0 800.6,416.0" fill="#000"/>
<line x1="813.1" y1="389" x2="813.1" y2="417.5" stroke="#000" stroke-width="1.0" />
<text x="781.6" y="409.3" font-size="16" text-anchor="middle" fill="#1a1a1a" textLength="42.7" lengthAdjust="spacingAndGlyphs" stroke="#fff" stroke-width="0.22" >60,70</text>
<line x1="617.7" y1="320.4" x2="617.7" y2="344.3" stroke="#000" stroke-width="1.0" />
<polygon points="617.7,344.3 615.2,331.8 620.2,331.8" fill="#000"/>
<line x1="613.7" y1="344.2" x2="717" y2="344.2" stroke="#000" stroke-width="1.0" />
<line x1="613.7" y1="404.9" x2="716.2" y2="404.9" stroke="#000" stroke-width="1.0" />
<line x1="617.7" y1="404.9" x2="617.7" y2="429.2" stroke="#000" stroke-width="1.0" />
<polygon points="617.7,404.9 615.2,417.4 620.2,417.4" fill="#000"/>
<text x="617.6" y="381.3" font-size="16" text-anchor="middle" fill="#1a1a1a" textLength="42.7" lengthAdjust="spacingAndGlyphs" stroke="#fff" stroke-width="0.22" >57,50</text>
<line x1="720.6" y1="431.5" x2="720.6" y2="502.7" stroke="#000" stroke-width="1.0" />
<line x1="749.4" y1="454.6" x2="749.4" y2="502.7" stroke="#000" stroke-width="1.0" />
<line x1="644" y1="498.6" x2="749.4" y2="498.6" stroke="#000" stroke-width="1.0" />
<polygon points="720.6,498.6 733.1,496.1 733.1,501.1" fill="#000"/>
<polygon points="749.4,498.6 736.9,496.1 736.9,501.1" fill="#000"/>
<text x="671.3" y="495" font-size="16" text-anchor="middle" fill="#1a1a1a" textLength="42.6" lengthAdjust="spacingAndGlyphs" stroke="#fff" stroke-width="0.22" >27,50</text>
<g>
<path d="M925.5,336 L944.8,335.6 L944.8,352.8 L925.5,352.6 Q924.3,352.5 924.3,351.3 L924.3,337.3 Q924.3,336 925.5,336 Z" stroke="#000" stroke-width="1.3" fill="#fff" />
<line x1="925" y1="339.8" x2="944.8" y2="339.8" stroke="#222" stroke-width="1.3" />
<line x1="925" y1="348.7" x2="944.8" y2="348.7" stroke="#222" stroke-width="1.3" />
<path d="M944.8,335 L974.5,331.4 L974.5,357.4 L944.8,353.3" stroke="#000" stroke-width="1.2" fill="#fff" />
<path d="M949.2,338.3 L974.5,336.4 M949.2,351.9 L974.5,352.6" stroke="#000" stroke-width="1.0" fill="none" />
<line x1="949.2" y1="336" x2="949.2" y2="352.6" stroke="#000" stroke-width="1.0" />
<path d="M974.5,331.4 L988.4,331.4 L988.4,357.4 L974.5,357.4" stroke="#000" stroke-width="1.0" fill="#fff" />
<line x1="974.5" y1="331.4" x2="974.5" y2="357.4" stroke="#000" stroke-width="1.1" />
<line x1="987.2" y1="332" x2="987.2" y2="357" stroke="#333" stroke-width="2.0" />
<path d="M988.4,329.5 L993.9,329.5 L993.9,359.2 L988.4,359.2 Z" stroke="#000" stroke-width="1.1" fill="#fff" />
<path d="M994.4,388.3 L981,388.6 Q979,388.8 979,390.8 L979,435.6 Q979,437.6 981,437.6 L994.4,437.9" stroke="#000" stroke-width="1.1" fill="#fff" />
<line x1="978" y1="396" x2="978" y2="420" stroke="#000" stroke-width="1.3" />
</g>
<g transform="translate(2021.2,0) scale(-1,1)">
<path d="M925.5,336 L944.8,335.6 L944.8,352.8 L925.5,352.6 Q924.3,352.5 924.3,351.3 L924.3,337.3 Q924.3,336 925.5,336 Z" stroke="#000" stroke-width="1.3" fill="#fff" />
<line x1="925" y1="339.8" x2="944.8" y2="339.8" stroke="#222" stroke-width="1.3" />
<line x1="925" y1="348.7" x2="944.8" y2="348.7" stroke="#222" stroke-width="1.3" />
<path d="M944.8,335 L974.5,331.4 L974.5,357.4 L944.8,353.3" stroke="#000" stroke-width="1.2" fill="#fff" />
<path d="M949.2,338.3 L974.5,336.4 M949.2,351.9 L974.5,352.6" stroke="#000" stroke-width="1.0" fill="none" />
<line x1="949.2" y1="336" x2="949.2" y2="352.6" stroke="#000" stroke-width="1.0" />
<path d="M974.5,331.4 L988.4,331.4 L988.4,357.4 L974.5,357.4" stroke="#000" stroke-width="1.0" fill="#fff" />
<line x1="974.5" y1="331.4" x2="974.5" y2="357.4" stroke="#000" stroke-width="1.1" />
<line x1="987.2" y1="332" x2="987.2" y2="357" stroke="#333" stroke-width="2.0" />
<path d="M988.4,329.5 L993.9,329.5 L993.9,359.2 L988.4,359.2 Z" stroke="#000" stroke-width="1.1" fill="#fff" />
<path d="M994.4,388.3 L981,388.6 Q979,388.8 979,390.8 L979,435.6 Q979,437.6 981,437.6 L994.4,437.9" stroke="#000" stroke-width="1.1" fill="#fff" />
<line x1="978" y1="396" x2="978" y2="420" stroke="#000" stroke-width="1.3" />
</g>
<rect x="994.4" y="282.5" width="33.1" height="167.8" rx="5.5" fill="#fff" stroke="#000" stroke-width="1.1"/>
<line x1="999.5" y1="282.5" x2="999.5" y2="450" stroke="#333" stroke-width="0.9" />
<line x1="1022" y1="282.5" x2="1022" y2="450" stroke="#333" stroke-width="0.9" />
<line x1="994.6" y1="292.6" x2="1027.8" y2="292.6" stroke="#333" stroke-width="0.9" />
<line x1="994.6" y1="440.2" x2="1027.8" y2="440.2" stroke="#333" stroke-width="0.9" />
<line x1="964.5" y1="254.9" x2="1056.7" y2="254.9" stroke="#000" stroke-width="1.0" />
<polygon points="988.3,254.9 975.8,252.4 975.8,257.4" fill="#000"/>
<polygon points="1032.5,254.9 1045.0,252.4 1045.0,257.4" fill="#000"/>
<line x1="988.3" y1="251.5" x2="988.3" y2="326" stroke="#000" stroke-width="1.0" />
<line x1="1032.5" y1="251.5" x2="1032.5" y2="326" stroke="#000" stroke-width="1.0" />
<text x="1011" y="251.5" font-size="16" text-anchor="middle" fill="#1a1a1a" textLength="18" lengthAdjust="spacingAndGlyphs" stroke="#fff" stroke-width="0.22" >42</text>
<line x1="979" y1="440" x2="979" y2="501" stroke="#000" stroke-width="1.0" />
<line x1="1042.5" y1="440" x2="1042.5" y2="501" stroke="#000" stroke-width="1.0" />
<line x1="979" y1="497.9" x2="1042.5" y2="497.9" stroke="#000" stroke-width="1.0" />
<polygon points="979.0,497.9 991.5,495.4 991.5,500.4" fill="#000"/>
<polygon points="1042.5,497.9 1030.0,495.4 1030.0,500.4" fill="#000"/>
<text x="1011" y="495.2" font-size="16" text-anchor="middle" fill="#1a1a1a" textLength="18.5" lengthAdjust="spacingAndGlyphs" stroke="#fff" stroke-width="0.22" >58</text>
<defs><linearGradient id="gFace" x1="0" y1="0" x2="0" y2="1"><stop offset="0" stop-color="#b4b4b4"/><stop offset="1" stop-color="#acacac"/></linearGradient><linearGradient id="gLow" x1="0" y1="0" x2="1" y2="1"><stop offset="0" stop-color="#ececec"/><stop offset="1" stop-color="#c8c8c8"/></linearGradient></defs>
<polygon points="766.0,497.2 766.5,499.5 796.0,512.5 800.5,519.3 792.6,526.1 766.0,510.0" fill="#a2a2a2" stroke="#707070" stroke-width="0.8" stroke-linejoin="round" />
<polygon points="766.5,495.5 789.8,492.1 802.8,506.3 799.4,514.8 766.5,499.5" fill="url(#gLow)" stroke="#707070" stroke-width="0.6" stroke-linejoin="round" />
<polygon points="766.5,495.5 820.4,445.1 837.4,450.2 793.2,491.2 789.8,492.1" fill="#f4f4f4" stroke="#707070" stroke-width="0.8" stroke-linejoin="round" />
<polygon points="793.2,491.2 837.4,450.2 839.1,455.3 796.0,497.2" fill="#b4b4b4" stroke="#707070" stroke-width="0.7" stroke-linejoin="round" />
<polygon points="836.3,496.7 878.2,458.7 878.2,526.1 878.3,588.7 869.3,597.7 835.4,635.6" fill="url(#gFace)" stroke="#707070" stroke-width="0.8" stroke-linejoin="round" />
<polygon points="810.8,487.0 849.9,447.4 870.3,452.5 832.9,492.1" fill="#f7f7f7" stroke="#707070" stroke-width="0.8" stroke-linejoin="round" />
<polygon points="832.9,492.1 870.3,452.5 878.2,458.7 836.3,496.7" fill="#d2d2d2" stroke="#707070" stroke-width="0.6" stroke-linejoin="round" />
<polygon points="809.1,488.7 832.9,492.4 836.3,496.7 835.4,635.6 809.0,630.0 807.8,487.5" fill="#909090" stroke="#707070" stroke-width="0.8" stroke-linejoin="round" />
<polygon points="810.5,491.0 832.0,495.5 832.5,630.0 810.5,624.5" fill="#555555" stroke="none" stroke-width="0.8" stroke-linejoin="round" />
<polygon points="836.3,496.7 840.8,493.3 840.5,631.5 835.4,635.6" fill="#9c9c9c" stroke="none" stroke-width="0.8" stroke-linejoin="round" />
<polygon points="801.5,564.0 808.5,562.0 808.5,609.5 801.5,607.0" fill="#a6a6a6" stroke="#707070" stroke-width="0.6" stroke-linejoin="round" />
<circle cx="816.9" cy="556.5" r="4.2" fill="#707070" stroke="#c8c8c8" stroke-width="1.1"/>
<path d="M815.1,556.5 L818.6999999999999,556.5 M816.9,554.7 L816.9,558.3" stroke="#ddd" stroke-width="0.8"/>
<circle cx="822.2" cy="610.4" r="4.2" fill="#707070" stroke="#c8c8c8" stroke-width="1.1"/>
<path d="M820.4000000000001,610.4 L824.0,610.4 M822.2,608.6 L822.2,612.1999999999999" stroke="#ddd" stroke-width="0.8"/>
<defs><linearGradient id="g40443" gradientUnits="userSpaceOnUse" x1="812.3" y1="534.8" x2="804.3" y2="525.8"><stop offset="0" stop-color="#9a9a9a"/><stop offset="0.35" stop-color="#b4b4b4"/><stop offset="0.7" stop-color="#d2d2d2"/><stop offset="1" stop-color="#c0c0c0"/></linearGradient></defs>
<polygon points="812.3,534.8 830.4,518.7 822.4,509.7 804.3,525.8" fill="url(#g40443)" stroke="#777" stroke-width="0.7" stroke-linejoin="round" />
<defs><linearGradient id="g42258" gradientUnits="userSpaceOnUse" x1="787.9" y1="559.5" x2="778.3" y2="549.5"><stop offset="0" stop-color="#9a9a9a"/><stop offset="0.35" stop-color="#b4b4b4"/><stop offset="0.7" stop-color="#d2d2d2"/><stop offset="1" stop-color="#c0c0c0"/></linearGradient></defs>
<polygon points="787.9,559.5 813.1,535.3 803.5,525.3 778.3,549.5" fill="url(#g42258)" stroke="#777" stroke-width="0.7" stroke-linejoin="round" />
<ellipse cx="783.1" cy="554.5" rx="5.2" ry="8.2" transform="rotate(-43.8 783.1 554.5)" fill="#9c9c9c" stroke="#666" stroke-width="0.9"/>
<ellipse cx="782.6" cy="554.8" rx="2.2" ry="3.2" transform="rotate(-43.8 782.6 554.8)" fill="#c8c8c8"/>
<defs><linearGradient id="g29883" gradientUnits="userSpaceOnUse" x1="799.1" y1="526.8" x2="792.3" y2="519.6"><stop offset="0" stop-color="#9a9a9a"/><stop offset="0.35" stop-color="#b4b4b4"/><stop offset="0.7" stop-color="#d2d2d2"/><stop offset="1" stop-color="#c0c0c0"/></linearGradient></defs>
<polygon points="799.1,526.8 827.8,499.6 821.0,492.4 792.3,519.6" fill="url(#g29883)" stroke="#777" stroke-width="0.7" stroke-linejoin="round" />
<ellipse cx="795.7" cy="523.2" rx="4.0" ry="5.0" transform="rotate(-43.5 795.7 523.2)" fill="#c4c4c4" stroke="#666" stroke-width="0.9"/>
<ellipse cx="795.7" cy="523.2" rx="2.2" ry="2.8" transform="rotate(-43.5 795.7 523.2)" fill="#aaa" stroke="#777" stroke-width="0.6"/>
<defs><linearGradient id="g35773" gradientUnits="userSpaceOnUse" x1="816.5" y1="586.9" x2="807.5" y2="579.1"><stop offset="0" stop-color="#9a9a9a"/><stop offset="0.35" stop-color="#b4b4b4"/><stop offset="0.7" stop-color="#d2d2d2"/><stop offset="1" stop-color="#c0c0c0"/></linearGradient></defs>
<polygon points="816.5,586.9 829.9,571.5 820.9,563.7 807.5,579.1" fill="url(#g35773)" stroke="#777" stroke-width="0.7" stroke-linejoin="round" />
<defs><linearGradient id="g73345" gradientUnits="userSpaceOnUse" x1="796.5" y1="605.0" x2="787.5" y2="594.4"><stop offset="0" stop-color="#9a9a9a"/><stop offset="0.35" stop-color="#b4b4b4"/><stop offset="0.7" stop-color="#d2d2d2"/><stop offset="1" stop-color="#c0c0c0"/></linearGradient></defs>
<polygon points="796.5,605.0 816.5,588.3 807.5,577.7 787.5,594.4" fill="url(#g73345)" stroke="#777" stroke-width="0.7" stroke-linejoin="round" />
<circle cx="792" cy="599.7" r="6.6" fill="#b0b0b0" stroke="#666" stroke-width="0.9"/>
<circle cx="792" cy="599.7" r="4.2" fill="#5a5a5a"/>
<circle cx="792" cy="599.7" r="2" fill="#aaa"/>
<defs><linearGradient id="g80951" gradientUnits="userSpaceOnUse" x1="799.6" y1="653.0" x2="791.8" y2="644.6"><stop offset="0" stop-color="#9a9a9a"/><stop offset="0.35" stop-color="#b4b4b4"/><stop offset="0.7" stop-color="#d2d2d2"/><stop offset="1" stop-color="#c0c0c0"/></linearGradient></defs>
<polygon points="799.6,653.0 828.6,625.9 820.8,617.5 791.8,644.6" fill="url(#g80951)" stroke="#777" stroke-width="0.7" stroke-linejoin="round" />
<ellipse cx="795.7" cy="648.8" rx="4.5" ry="5.6" transform="rotate(-43.1 795.7 648.8)" fill="#c4c4c4" stroke="#666" stroke-width="0.9"/>
<ellipse cx="795.7" cy="648.8" rx="2.5" ry="3.1" transform="rotate(-43.1 795.7 648.8)" fill="#aaa" stroke="#777" stroke-width="0.6"/>
<ellipse cx="850.2" cy="533.4" rx="7.6" ry="15.2" fill="#a8a8a8" stroke="#707070" stroke-width="0.8"/>
<ellipse cx="852.4" cy="533.4" rx="5.6" ry="13" fill="#b4b4b4" stroke="#d8d8d8" stroke-width="1"/>
<polygon points="852.5,523.0 866.8,526.1 863.7,536.1 862.4,548.0 852.5,547.3" fill="#b6b6b6" stroke="#707070" stroke-width="0.6" stroke-linejoin="round" />
<polygon points="866.8,526.1 907.9,524.3 915.4,536.1 863.7,536.1" fill="url(#gLow)" stroke="#707070" stroke-width="0.6" stroke-linejoin="round" />
<polygon points="863.1,536.1 916.0,537.4 917.3,551.1 877.4,551.1 862.4,548.0" fill="#a8a8a8" stroke="#707070" stroke-width="0.8" stroke-linejoin="round" />
<polygon points="907.9,524.3 955.9,481.9 972.2,486.9 916.0,536.1" fill="#f4f4f4" stroke="#707070" stroke-width="0.8" stroke-linejoin="round" />
<polygon points="916.0,536.1 972.2,486.9 972.8,493.0 919.2,550.4 917.3,551.1" fill="#a6a6a6" stroke="#707070" stroke-width="0.8" stroke-linejoin="round" />
<polygon points="843.9,577.3 855.4,564.2 868.5,569.1 856.2,581.4" fill="#f6f6f6" stroke="#707070" stroke-width="0.8" stroke-linejoin="round" />
<polygon points="843.1,578.1 856.2,581.4 856.2,621.5 843.1,616.5" fill="#a8a8a8" stroke="#707070" stroke-width="0.8" stroke-linejoin="round" />
<polygon points="856.2,581.4 868.5,569.1 869.3,609.2 856.2,621.5" fill="#c8c8c8" stroke="#707070" stroke-width="0.8" stroke-linejoin="round" />
<path d="M859.6,590 L859.6,606 Q859.6,610.5 862.8,610.5 Q866,610.5 866,606 L866,590" fill="#c08850" stroke="#8a5a2a" stroke-width="0.7"/>
<circle cx="862.8" cy="586.6" r="5" fill="#c8925c" stroke="#8a5a2a" stroke-width="0.7"/>
<rect x="860.8" y="589" width="4" height="19" rx="2" fill="#d8a870"/>
<path d="M861,585 Q863,582.5 865,585 Q865,588 862.5,588.5" fill="none" stroke="#6a3a10" stroke-width="1"/>
</svg></body></html>
